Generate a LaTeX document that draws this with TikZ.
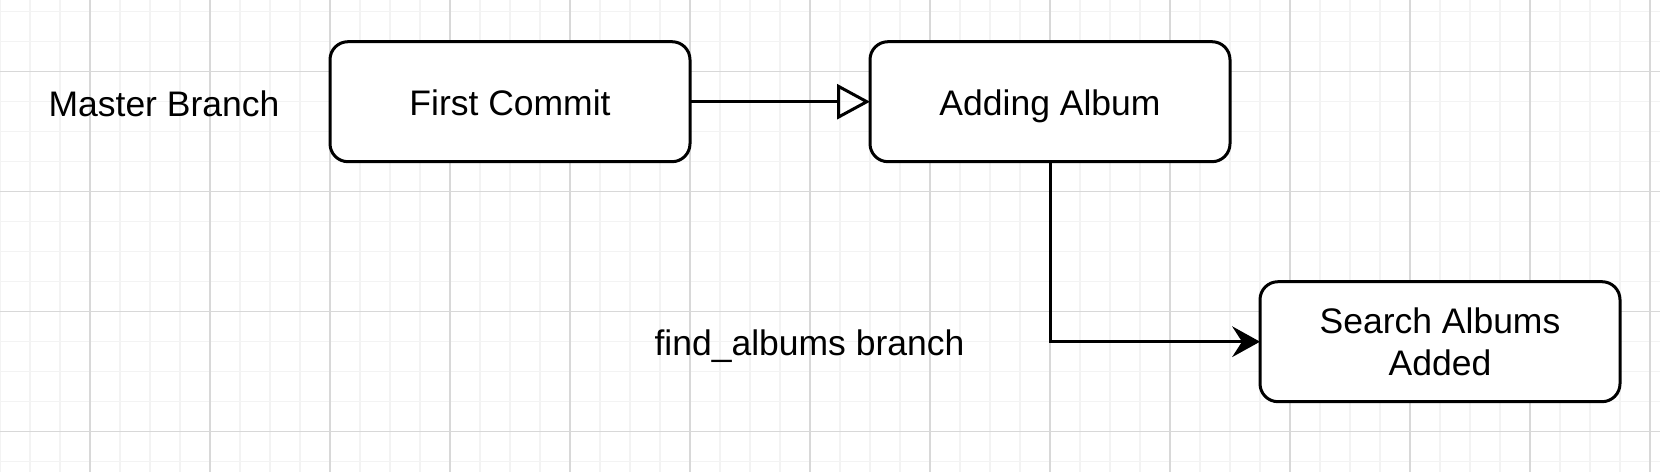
\documentclass[tikz,border=0pt]{standalone}
\usepackage{fontspec}
\setmainfont{Liberation Sans}
\usetikzlibrary{arrows.meta}
\definecolor{gridminor}{RGB}{243,243,243}
\definecolor{gridmajor}{RGB}{216,216,216}
\tikzset{
  boxnode/.style={draw=black, line width=3pt, fill=white, rounded corners=18pt,
    minimum width=360pt, minimum height=120pt, inner sep=0pt, outer sep=0pt,
    align=center},
  oneline/.style={text height=30pt, text depth=2pt},
  freelabel/.style={anchor=base, inner sep=0pt},
  conn/.style={draw=black, line width=3pt},
}
\begin{document}
\begin{tikzpicture}[x=1pt,y=-1pt,font=\fontsize{35.5}{42.7}\selectfont]
\useasboundingbox (0,0) rectangle (1660,472);
\fill[white] (0,0) rectangle (1660,472);
% minor grid
\foreach \x in {0,30,...,1650} \draw[gridminor, line width=1.5pt] (\x,0) -- (\x,472);
\foreach \k in {0,...,15} \draw[gridminor, line width=1.5pt] (0,11.7+30*\k) -- (1660,11.7+30*\k);
% major grid
\foreach \x in {90,210,...,1650} \draw[gridmajor, line width=1.5pt] (\x,0) -- (\x,472);
\foreach \k in {0,...,3} \draw[gridmajor, line width=1.5pt] (0,71.7+120*\k) -- (1660,71.7+120*\k);
% nodes
\node[boxnode, oneline] (fc) at (510,101.7) {First Commit};
\node[boxnode, oneline] (aa) at (1050,101.7) {Adding Album};
\node[boxnode] (sa) at (1440,341.7) {Search Albums\\Added};
\node[freelabel] (mb) at (164,116) {Master Branch};
\node[freelabel] (fb) at (809.5,355.7) {find\_albums branch};
% connectors
\draw[conn, -{Triangle[open, length=33pt, width=35pt]}] (fc.east) -- (aa.west);
\draw[conn, -{Stealth[length=28pt, width=31pt, inset=10pt, line width=0pt]}] (aa.south) |- (sa.west);
\end{tikzpicture}
\end{document}
